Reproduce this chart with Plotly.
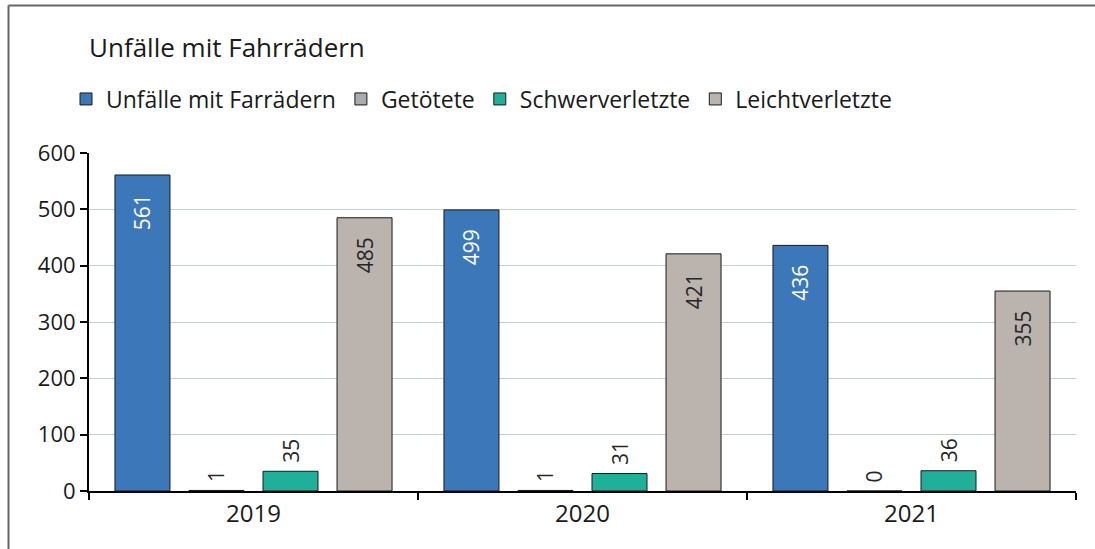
import plotly.graph_objects as go

years = ["2019", "2020", "2021"]
series_names = ["Unfälle mit Farrädern", "Getötete", "Schwerverletzte", "Leichtverletzte"]
unfaelle = [561, 499, 436]
getoetete = [1, 1, 0]
schwer = [35, 31, 36]
leicht = [485, 421, 355]
y_ticks = [0, 100, 200, 300, 400, 500, 600]

colors = ["#3C78B9", "#A7ACB2", "#20B09A", "#BBB3AE"]
text_colors = ["white", "#262626", "#262626", "#262626"]
values = [unfaelle, getoetete, schwer, leicht]

FONT = "Open Sans"
INK = "#1a1a1a"
PAD = "\u00a0\u00a0\u00a0"
fig = go.Figure()
for name, vals, col, tcol in zip(series_names, values, colors, text_colors):
    inside = [v > 100 for v in vals]
    pos = ["inside" if i else "outside" for i in inside]
    tc = [tcol if i else "#262626" for i in inside]
    labels = [f"{v}{PAD}" if i else f"\u00a0{v}" for v, i in zip(vals, inside)]
    fig.add_trace(go.Bar(
        x=years, y=vals, name=name,
        marker=dict(color=col, line=dict(color="#1a1a1a", width=1)),
        text=labels, textposition=pos, textangle=-90,
        insidetextanchor="end", cliponaxis=False,
        textfont=dict(family=FONT, size=21, color=tc),
        outsidetextfont=dict(family=FONT, size=21, color="#262626"),
    ))

W, H = 1095, 549
L, R, T, B = 89, 19, 153, 58
pw, ph = W - L - R, H - T - B

def px(x):
    return (x - L) / pw

def py(y):
    return (H - B - y) / ph

fig.update_layout(
    width=W, height=H,
    margin=dict(l=L, r=R, t=T, b=B, pad=0),
    paper_bgcolor="white", plot_bgcolor="white",
    barmode="group", bargap=0.1, bargroupgap=0.257,
    font=dict(family=FONT, size=20, color=INK),
    title=dict(text="Unfälle mit Fahrrädern", x=0, xref="paper", xanchor="left",
               y=1 - 48 / H, yref="container", yanchor="middle",
               font=dict(family=FONT, size=26, color=INK)),
    legend=dict(orientation="h", x=px(66), xanchor="left", y=py(99), yanchor="middle",
                font=dict(family=FONT, size=23, color=INK),
                itemwidth=30, tracegroupgap=0, bgcolor="rgba(0,0,0,0)"),
    showlegend=True,
    uniformtext=dict(minsize=10, mode="show"),
    xaxis=dict(showline=True, linecolor="black", linewidth=2,
               ticks="outside", tickson="boundaries", ticklen=7, tickwidth=2, tickcolor="black",
               tickfont=dict(family=FONT, size=24, color=INK), showgrid=False),
    yaxis=dict(range=[0, 600], tickvals=y_ticks, showline=True, linecolor="black", linewidth=2,
               ticks="outside", ticklen=7, tickwidth=2, tickcolor="black",
               gridcolor="#C7CDD4", gridwidth=1, zeroline=False,
               tickfont=dict(family=FONT, size=22, color=INK)),
    shapes=[
        dict(type="line", xref="paper", yref="paper", x0=px(8.5), x1=px(8.5), y0=py(5.5), y1=py(560),
             line=dict(color="#666666", width=2)),
        dict(type="line", xref="paper", yref="paper", x0=px(8.5), x1=px(1100), y0=py(5.5), y1=py(5.5),
             line=dict(color="#666666", width=2)),
    ],
)

fig.write_html("out.html", config={"displayModeBar": False},
               post_script="document.body.style.margin='0';document.body.style.overflow='hidden';")
